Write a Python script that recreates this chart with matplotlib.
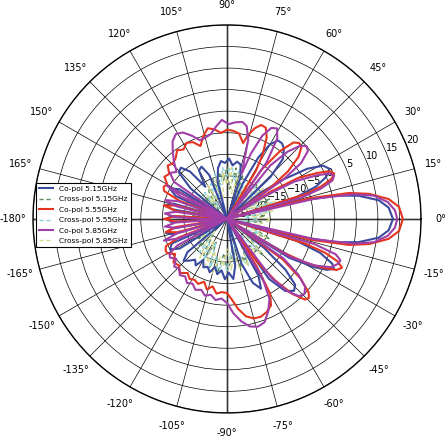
import numpy as np
import matplotlib
matplotlib.use('Agg')
import matplotlib.pyplot as plt

# co-pol patterns, (angle in degrees, gain in dB)
copol_515 = [(-180, -11), (-177, -12), (-174, -25), (-170, -12), (-167, -10.5), (-164, -12), (-160, -25),
             (-156, -11), (-152, -10), (-148, -12), (-144, -25), (-140, -13), (-136, -11), (-132, -12),
             (-128, -13), (-124, -12), (-120, -14), (-116, -12.5), (-112, -13), (-108, -12), (-104, -13.5),
             (-100, -12), (-96, -13), (-92, -11), (-88, -12.5), (-84, -11), (-80, -14), (-76, -25),
             (-72, -14), (-68, -9), (-64, -7), (-61, -10), (-58, -25), (-55, -8), (-51, -3.5), (-47, -2.2),
             (-44, -3), (-41, -7), (-38, -14), (-35, -25), (-32, -8), (-29, -2), (-27, 1), (-25, 2.4),
             (-23, 1.5), (-20, -2), (-17.5, -8), (-15.5, -25), (-14, -8), (-12, 1), (-10, 6), (-7, 10.5),
             (-4, 12.6), (0, 13.5), (4, 12.6), (7, 10.5), (10, 6), (12, 1), (14, -8), (15.5, -25),
             (17.5, -8), (20, -3), (23, 0), (26, 1.5), (29, 0.5), (32, -3), (35, -9), (38, -15), (41, -25),
             (44, -11), (47, -6), (51, -4), (54, -3.3), (57, -3.3), (60, -5), (63, -9), (66, -16), (69, -25),
             (72, -15), (76, -12), (80, -11.5), (84, -12.5), (88, -11), (92, -12), (96, -11.5), (100, -13),
             (104, -16), (108, -25), (112, -14), (116, -11.5), (120, -12), (124, -16), (128, -11), (132, -9),
             (136, -9.5), (140, -14), (144, -25), (148, -12), (152, -10), (156, -12), (160, -25), (164, -12),
             (167, -10.5), (170, -12), (174, -25), (177, -12), (180, -11)]

copol_555 = [(-180, -10.5), (-177, -13), (-174, -25), (-171, -13), (-168, -10.5), (-165, -13), (-162, -25),
             (-159, -13), (-156, -9.5), (-153, -9), (-150, -9), (-146, -10.5), (-141, -9), (-136, -9.5),
             (-131, -8.4), (-126, -9.5), (-122, -8.6), (-118, -9), (-114, -8.5), (-110, -9.5), (-106, -8),
             (-102, -9), (-98, -7.5), (-94, -8), (-90, -7.8), (-87, -6.5), (-83, -4), (-79, -2), (-75, -1.1),
             (-71, -1), (-67, -1.5), (-63, -2.5), (-60, -5), (-58, -12), (-57, -25), (-55, -13), (-52, -7),
             (-49, -2), (-46, 1), (-44, 1.4), (-42, 0.5), (-39, -3), (-36, -9), (-33, -25), (-31, -10),
             (-29, -4), (-27, 0), (-25, 3), (-23, 4), (-21, 2.5), (-19, -1), (-17.5, -6), (-15.5, -25),
             (-14, -5), (-12, 4), (-10, 8.5), (-7, 12.8), (-4, 15), (0, 15.8), (4, 15), (7, 12.8), (10, 8.5),
             (12, 4), (14, -5), (15.5, -25), (17.5, -6), (19, -2), (21, 1), (23, 2), (25, 1.2), (27, -1.5),
             (30, -6), (32, -13), (34, -25), (36, -12), (38, -7), (41, -3), (44, -1), (46.5, -0.7), (49, -1.5),
             (52, -5), (55, -11), (57, -25), (59, -12), (61, -8), (64, -4), (67, -2), (70, -1.8), (73, -3),
             (76, -5), (78, -7), (82, -5), (86, -4.5), (90, -4.3), (94, -5), (98, -4), (102, -3.5), (106, -5),
             (110, -7), (114, -5.5), (118, -5), (122, -6), (126, -5.3), (130, -6.5), (134, -7), (138, -6.5),
             (142, -8), (146, -7.5), (150, -9), (153, -8.5), (156, -9), (159, -13), (162, -25), (165, -13),
             (168, -10), (171, -13), (174, -25), (177, -13), (180, -10.5)]

copol_585 = [(-180, -20), (-179, -25), (-176, -13), (-173, -10.5), (-170, -13), (-167, -25), (-164, -13),
             (-161, -9.5), (-158, -13), (-155, -25), (-152, -12), (-149, -9.5), (-146, -9), (-142, -10),
             (-138, -8.5), (-134, -9), (-130, -8), (-126, -8.5), (-122, -7.5), (-118, -8), (-114, -7),
             (-110, -7.5), (-106, -6.5), (-102, -7), (-98, -6), (-94, -6.5), (-90, -5.5), (-86, -3), (-82, -1),
             (-78, 0.5), (-74, 1), (-70, 0.5), (-66, -1.5), (-62, -4), (-59, -9), (-56, -25), (-53, -8),
             (-50, -3), (-47, -0.5), (-44, 0), (-41, -1), (-38, -4), (-35, -9), (-33, -25), (-31, -8),
             (-28, -2), (-25, 1.5), (-22, 2.8), (-20, 3), (-18, 1.5), (-16, -4), (-14.5, -25), (-13, -4),
             (-11, 5), (-9, 9.5), (-6, 12.5), (-3, 14), (0, 14.5), (3, 14), (6, 12.5), (9, 9.5), (11, 5),
             (13, -4), (14.5, -25), (16, -7), (18, -2), (20, 1), (22, 1.8), (24, 1), (26, -2), (29, -7),
             (31, -14), (33, -25), (35, -9), (37, -3.5), (40, -0.5), (42.5, 0), (45, -1), (48, -4), (51, -9),
             (53, -25), (55, -9), (58, -3), (61, -1), (64, -1.5), (67, -4), (70, -9), (72, -14), (75, -6),
             (78, -3), (81, -2.2), (85, -2.5), (89, -3), (93, -2), (97, -3.5), (101, -5), (105, -5.5),
             (109, -5.7), (113, -4), (117, -2.5), (121, -2), (125, -3), (129, -5), (133, -7), (137, -9),
             (141, -8), (145, -10), (148, -25), (151, -9), (154, -13), (157, -25), (160, -13), (163, -10),
             (166, -13), (169, -25), (172, -13), (175, -10.5), (178, -13), (180, -20)]

# cross-pol patterns, sampled every 5 degrees from 0 to 355
xpol_angles = list(range(0, 360, 5))
xpol_515 = [-19, -16, -20, -15, -18, -14, -19, -15, -21, -16, -14, -19, -15, -22, -14, -17, -13, -18,
            -13, -16, -14, -19, -15, -21, -16, -18, -22, -17, -20, -16, -21, -17, -23, -18, -20, -17,
            -21, -18, -22, -17, -20, -16, -21, -17, -19, -15, -20, -16, -14, -19, -13, -16, -12, -17,
            -13, -15, -18, -13, -16, -14, -19, -14, -17, -13, -18, -15, -20, -14, -18, -16, -21, -17]
xpol_555 = [-18, -21, -15, -19, -14, -20, -16, -22, -15, -18, -13, -17, -21, -14, -18, -13, -16, -12,
            -15, -13, -17, -14, -20, -16, -19, -22, -17, -20, -18, -23, -19, -21, -17, -22, -19, -20,
            -18, -22, -17, -21, -19, -23, -18, -20, -16, -21, -15, -18, -14, -19, -13, -16, -12, -15,
            -13, -17, -14, -19, -15, -13, -18, -16, -20, -15, -19, -14, -21, -16, -19, -17, -22, -19]
xpol_585 = [-15, -19, -14, -17, -13, -20, -15, -18, -14, -21, -16, -19, -15, -22, -17, -14, -19, -13,
            -17, -14, -20, -15, -18, -21, -16, -20, -18, -22, -17, -21, -19, -23, -18, -20, -17, -22,
            -19, -21, -16, -20, -18, -22, -16, -19, -15, -21, -17, -14, -19, -13, -17, -12, -16, -14,
            -18, -13, -17, -12, -15, -13, -18, -12, -16, -14, -19, -13, -17, -15, -20, -14, -18, -16]

labels = ['Co-pol 5.15GHz', 'Cross-pol 5.15GHz', 'Co-pol 5.55GHz',
          'Cross-pol 5.55GHz', 'Co-pol 5.85GHz', 'Cross-pol 5.85GHz']
colors = ['#3a4a9e', '#5b8a5e', '#e5341f', '#8ed3dc', '#a03fa8', '#d6da8e']

r_ticks = [-25, -20, -15, -10, -5, 0, 5, 10, 15, 20]
theta_ticks = list(range(0, 360, 15))
theta_labels = ['%d°' % (t if t < 180 else t - 360) for t in theta_ticks]


def to_polar(points):
    ang = np.radians([p[0] for p in points])
    val = np.array([p[1] for p in points])
    return ang, val


def closed(angles, values):
    ang = np.radians(list(angles) + [angles[0] + 360])
    val = np.array(list(values) + [values[0]])
    return ang, val


fig = plt.figure(figsize=(4.48, 4.40), dpi=100)
ax = fig.add_axes([0.0737, 0.0614, 0.866, 0.882], projection='polar')

series = [to_polar(copol_515), closed(xpol_angles, xpol_515),
          to_polar(copol_555), closed(xpol_angles, xpol_555),
          to_polar(copol_585), closed(xpol_angles, xpol_585)]

for i, (ang, val) in enumerate(series):
    if i % 2 == 0:
        ax.plot(ang, val, color=colors[i], lw=1.5, label=labels[i], zorder=2.3)
    else:
        ax.plot(ang, val, color=colors[i], lw=1.0, ls=(0, (3, 2)), label=labels[i], zorder=2.2)

# gray axis lines through the origin
for a in [0, np.pi / 2, np.pi, 3 * np.pi / 2]:
    ax.plot([a, a], [-25, 20], color='#aaaaaa', lw=1.8, zorder=1)

ax.set_rlim(-25, 20)
ax.set_rticks(r_ticks)
ax.set_rlabel_position(22.5)
ax.set_thetagrids(theta_ticks, theta_labels)
ax.grid(True, color='black', lw=0.5, ls='-')
ax.spines['polar'].set_linewidth(1.0)
ax.tick_params(axis='x', labelsize=7, pad=4)
ax.tick_params(axis='y', labelsize=7)

leg = ax.legend(loc='upper left', bbox_to_anchor=(0.008, 0.593), fontsize=5.4,
                fancybox=False, framealpha=1, edgecolor='black', handlelength=1.8,
                borderpad=0.4, labelspacing=0.55, handletextpad=0.9, borderaxespad=0)
leg.get_frame().set_linewidth(0.8)
leg.set_zorder(5)

fig.savefig('out.png', dpi=100)
